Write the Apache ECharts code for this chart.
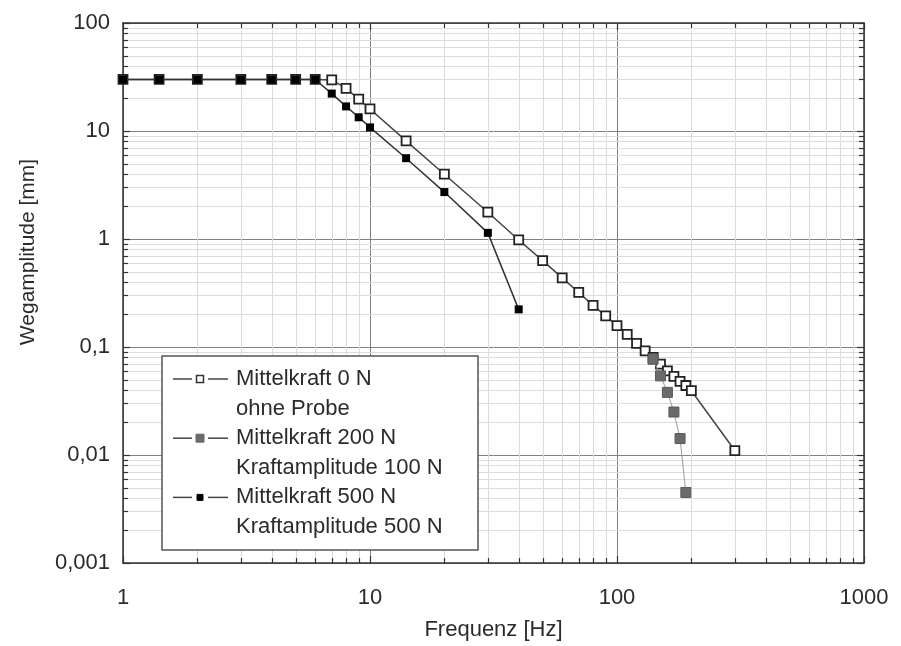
<!DOCTYPE html>
<html>
<head>
<meta charset="utf-8">
<script src="https://cdn.jsdelivr.net/npm/echarts@6/dist/echarts.min.js"></script>
<style>
  html, body { margin: 0; padding: 0; background: #fff; }
  #chart { width: 901px; height: 646px; }
</style>
</head>
<body>
<div id="chart"></div>
<script>
// Mittelkraft 0 N, ohne Probe
var freqOpen = [1, 1.4, 2, 3, 4, 5, 6, 7, 8, 9, 10, 14, 20, 30, 40, 50, 60, 70, 80, 90, 100,
  110, 120, 130, 140, 150, 160, 170, 180, 190, 200, 300];
var ampOpen = [30, 30, 30, 30, 30, 30, 30, 29.7, 24.8, 19.7, 16, 8.1, 3.98, 1.77, 0.98, 0.63, 0.436,
  0.32, 0.243, 0.194, 0.158, 0.131, 0.108, 0.092, 0.080, 0.0695, 0.060, 0.0535, 0.048, 0.044, 0.0394, 0.011];

// Mittelkraft 200 N, Kraftamplitude 100 N
var freq200 = [140, 150, 160, 170, 180, 190];
var amp200 = [0.077, 0.054, 0.038, 0.025, 0.0142, 0.0045];

// Mittelkraft 500 N, Kraftamplitude 500 N
var freq500 = [1, 1.4, 2, 3, 4, 5, 6, 7, 8, 9, 10, 14, 20, 30, 40];
var amp500 = [30, 30, 30, 30, 30, 30, 30, 22.2, 16.9, 13.4, 10.8, 5.6, 2.72, 1.14, 0.223];

var legendNames = [
  ["Mittelkraft 0 N", "ohne Probe"],
  ["Mittelkraft 200 N", "Kraftamplitude 100 N"],
  ["Mittelkraft 500 N", "Kraftamplitude 500 N"]
];

var yTickValues = [0.001, 0.01, 0.1, 1, 10, 100];
var yTickLabels = ["0,001", "0,01", "0,1", "1", "10", "100"];
var xTickLabels = ["1", "10", "100", "1000"];

// minor grid positions (2..9 in each decade)
var xMinor = [];
[1, 10, 100].forEach(function (d) {
  for (var k = 2; k <= 9; k++) xMinor.push(d * k);
});
var yMinor = [];
[0.001, 0.01, 0.1, 1, 10].forEach(function (d) {
  for (var k = 2; k <= 9; k++) yMinor.push(d * k);
});

function pairs(xs, ys) {
  return xs.map(function (x, i) { return [x, ys[i]]; });
}

var FONT = "'Liberation Sans', Arial, sans-serif";
var TXT = "#2b2b2b";

function renderMinor(params, api) {
  var cs = params.coordSys;
  var left = cs.x, top = cs.y, right = cs.x + cs.width, bottom = cs.y + cs.height;
  var kids = [];
  var grid = { stroke: "#dcdcdc", lineWidth: 1 };
  var tick = { stroke: "#333", lineWidth: 1.2 };
  xMinor.forEach(function (v) {
    var x = Math.round(api.coord([v, 1])[0]) + 0.5;
    kids.push({ type: "line", shape: { x1: x, y1: top, x2: x, y2: bottom }, style: grid });
    kids.push({ type: "line", shape: { x1: x, y1: bottom, x2: x, y2: bottom - 5 }, style: tick });
    kids.push({ type: "line", shape: { x1: x, y1: top, x2: x, y2: top + 5 }, style: tick });
  });
  yMinor.forEach(function (v) {
    var y = Math.round(api.coord([1, v])[1]) + 0.5;
    kids.push({ type: "line", shape: { x1: left, y1: y, x2: right, y2: y }, style: grid });
    kids.push({ type: "line", shape: { x1: left, y1: y, x2: left + 5, y2: y }, style: tick });
    kids.push({ type: "line", shape: { x1: right, y1: y, x2: right - 5, y2: y }, style: tick });
  });
  return { type: "group", children: kids };
}

// legend drawn as graphic (two-line entries with marker on first line)
var legX = 162, legY = 356, legW = 316, legH = 194, rowH = 29.6;
var legendGraphic = [{
  type: "rect", shape: { x: legX, y: legY, width: legW, height: legH },
  style: { fill: "#fff", stroke: "#555", lineWidth: 1.5 }, z: 100
}];
var markerStyles = [
  { size: 7, fill: "#fff", stroke: "#333", lineWidth: 1.5 },
  { size: 8, fill: "#6a6a6a", stroke: "#6a6a6a", lineWidth: 1 },
  { size: 6, fill: "#000", stroke: "#000", lineWidth: 1 }
];
legendNames.forEach(function (lines, i) {
  var cy = legY + 23 + i * 2 * rowH;
  var ms = markerStyles[i];
  legendGraphic.push({ type: "line", z: 101, shape: { x1: 173, y1: cy, x2: 192, y2: cy }, style: { stroke: "#444", lineWidth: 1.5 } });
  legendGraphic.push({ type: "line", z: 101, shape: { x1: 208, y1: cy, x2: 228, y2: cy }, style: { stroke: "#444", lineWidth: 1.5 } });
  legendGraphic.push({ type: "rect", z: 101, shape: { x: 200 - ms.size / 2, y: cy - ms.size / 2, width: ms.size, height: ms.size },
    style: { fill: ms.fill, stroke: ms.stroke, lineWidth: ms.lineWidth } });
  lines.forEach(function (t, j) {
    legendGraphic.push({ type: "text", z: 101, x: 236, y: cy + j * rowH,
      style: { text: t, font: "22px " + FONT, fill: TXT, verticalAlign: "middle", align: "left" } });
  });
});

var chart = echarts.init(document.getElementById("chart"));
var option = {
  backgroundColor: "#fff",
  animation: false,
  grid: { left: 123, top: 23, right: 37, bottom: 77 },
  xAxis: [{
    type: "log", logBase: 10, min: 1, max: 1000,
    name: "Frequenz [Hz]", nameLocation: "middle", nameGap: 56,
    nameTextStyle: { fontSize: 22, fontFamily: FONT, color: TXT },
    axisLine: { lineStyle: { color: "#333", width: 1.5 } },
    axisTick: { inside: true, length: 7, lineStyle: { color: "#333", width: 1.2 } },
    axisLabel: {
      fontSize: 22, fontFamily: FONT, color: TXT, margin: 24,
      formatter: function (v) { return xTickLabels[Math.round(Math.log10(v))]; }
    },
    splitLine: { show: true, lineStyle: { color: "#808080", width: 1 } }
  }, {
    type: "log", logBase: 10, min: 1, max: 1000, position: "top",
    axisLine: { lineStyle: { color: "#333", width: 1.5 } },
    axisTick: { inside: true, length: 7, lineStyle: { color: "#333", width: 1.2 } },
    axisLabel: { show: false },
    splitLine: { show: false }
  }],
  yAxis: [{
    type: "log", logBase: 10, min: 0.001, max: 100,
    name: "Wegamplitude [mm]", nameLocation: "middle", nameGap: 84,
    nameTextStyle: { fontSize: 21, fontFamily: FONT, color: TXT, padding: [0, 0, 0, 82] },
    axisLine: { lineStyle: { color: "#333", width: 1.5 } },
    axisTick: { inside: true, length: 7, lineStyle: { color: "#333", width: 1.2 } },
    axisLabel: {
      fontSize: 22, fontFamily: FONT, color: TXT, margin: 13,
      formatter: function (v) { return yTickLabels[Math.round(Math.log10(v)) + 3]; }
    },
    splitLine: { show: true, lineStyle: { color: "#808080", width: 1 } }
  }, {
    type: "log", logBase: 10, min: 0.001, max: 100, position: "right",
    axisLine: { lineStyle: { color: "#333", width: 1.5 } },
    axisTick: { inside: true, length: 7, lineStyle: { color: "#333", width: 1.2 } },
    axisLabel: { show: false },
    splitLine: { show: false }
  }],
  graphic: legendGraphic,
  series: [
    {
      type: "custom", name: "minor", silent: true, z: 0,
      renderItem: renderMinor, data: [[1, 1]]
    },
    {
      name: legendNames[0].join(" "), type: "line", z: 3,
      data: pairs(freqOpen, ampOpen),
      symbol: "rect", symbolSize: 9,
      itemStyle: { color: "#fff", borderColor: "#222", borderWidth: 1.8 },
      lineStyle: { color: "#444", width: 1.5 }
    },
    {
      name: legendNames[1].join(" "), type: "line", z: 4,
      data: pairs(freq200, amp200),
      symbol: "rect", symbolSize: 10,
      itemStyle: { color: "#6a6a6a", borderColor: "#5a5a5a", borderWidth: 1 },
      lineStyle: { color: "#999", width: 1 }
    },
    {
      name: legendNames[2].join(" "), type: "line", z: 5,
      data: pairs(freq500, amp500),
      symbol: "rect", symbolSize: 8,
      itemStyle: { color: "#000" },
      lineStyle: { color: "#333", width: 1.5 }
    }
  ]
};
chart.setOption(option);
</script>
</body>
</html>
